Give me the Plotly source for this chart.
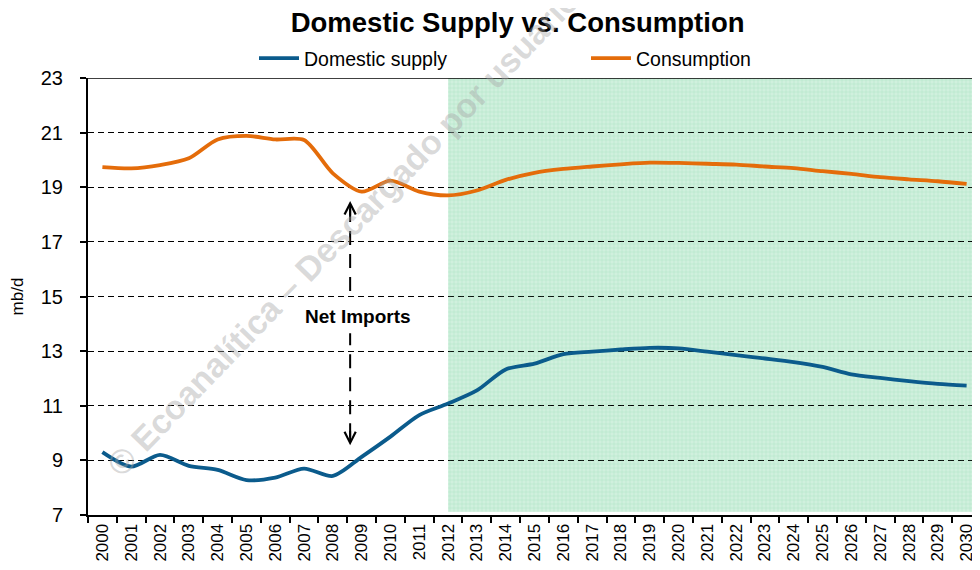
import plotly.graph_objects as go

years = list(range(2000, 2031))
domestic_supply = [9.30, 8.77, 9.20, 8.80, 8.65, 8.28, 8.37, 8.70, 8.43, 9.13, 9.87, 10.66,
                   11.08, 11.56, 12.33, 12.54, 12.89, 12.98, 13.06, 13.12, 13.10, 12.98,
                   12.85, 12.73, 12.60, 12.42, 12.15, 12.02, 11.90, 11.80, 11.74]
consumption = [19.74, 19.69, 19.81, 20.06, 20.75, 20.88, 20.75, 20.73, 19.51, 18.84, 19.24, 18.84,
               18.70, 18.88, 19.27, 19.53, 19.67, 19.76, 19.84, 19.90, 19.89, 19.86,
               19.83, 19.76, 19.70, 19.59, 19.49, 19.37, 19.29, 19.22, 19.12]
year_labels = [str(y) for y in years]
y_ticks = [7, 9, 11, 13, 15, 17, 19, 21, 23]
forecast_start = 2012
arrow_year = 2008.6
arrow_top, arrow_text, arrow_bottom = 18.5, 14.25, 9.55

BLUE = "#0b5b8c"
ORANGE = "#e46c0a"
FONT = "Liberation Sans, Arial, sans-serif"

x_lo, x_hi = years[0] - 0.5, years[-1] + 0.5
# plot-area geometry in figure pixels
L, T, PW, PH = 80, 70, 893, 437

fig = go.Figure()

# forecast shading: solid base below gridlines + light pattern on top
fig.add_shape(type="rect", xref="x", yref="y", x0=forecast_start, x1=x_hi, y0=7.12, y1=23,
              fillcolor="#d0f0dd", line=dict(width=0), layer="below")
fig.add_trace(go.Scatter(
    x=[forecast_start, x_hi, x_hi, forecast_start, forecast_start],
    y=[7.12, 7.12, 23, 23, 7.12],
    mode="lines", line=dict(width=0), fill="toself",
    fillcolor="rgba(0,0,0,0)",
    fillpattern=dict(shape="+", fgcolor="rgba(120,210,160,0.55)", bgcolor="rgba(0,0,0,0)",
                     size=4, solidity=0.3),
    hoverinfo="skip", showlegend=False))

fig.add_trace(go.Scatter(x=years, y=domestic_supply, name="Domestic supply", mode="lines",
                         line=dict(color=BLUE, width=3.8, shape="spline", smoothing=0.8)))
fig.add_trace(go.Scatter(x=years, y=consumption, name="Consumption", mode="lines",
                         line=dict(color=ORANGE, width=3.8, shape="spline", smoothing=0.8)))

# dashed arrow segments
for y0, y1 in [(15.2, arrow_top - 0.3), (arrow_bottom + 0.3, 13.65)]:
    fig.add_shape(type="line", xref="x", yref="y", x0=arrow_year, x1=arrow_year,
                  y0=y0, y1=y1, line=dict(color="black", width=2, dash="14px,9px"))
fig.add_annotation(x=arrow_year, y=arrow_top, xref="x", yref="y", ax=0, ay=16, text="",
                   showarrow=True, arrowhead=5, arrowsize=1.1, arrowwidth=2, arrowcolor="black")
fig.add_annotation(x=arrow_year, y=arrow_bottom, xref="x", yref="y", ax=0, ay=-16, text="",
                   showarrow=True, arrowhead=5, arrowsize=1.1, arrowwidth=2, arrowcolor="black")
fig.add_annotation(x=arrow_year + 0.27, y=arrow_text, xref="x", yref="y", text="<b>Net Imports</b>",
                   showarrow=False, font=dict(family=FONT, size=19, color="black"))

# watermark (page is offset 8px by the browser's body margin)
wx, wy = 343 - 8, 232 - 8
fig.add_annotation(x=(wx - L) / PW, y=(T + PH - wy) / PH, xref="paper", yref="paper",
                   xanchor="center", yanchor="middle",
                   text="<b>© Ecoanalítica – Descargado por usuario</b>", showarrow=False,
                   textangle=-46, font=dict(family=FONT, size=34, color="rgba(165,165,165,0.42)"))

fig.update_layout(
    width=980, height=570,
    margin=dict(l=L, r=980 - L - PW, t=T, b=570 - T - PH),
    paper_bgcolor="white", plot_bgcolor="white",
    font=dict(family=FONT, color="black"),
    title=dict(text="<b>Domestic Supply vs. Consumption</b>", x=0.520, xanchor="center",
               y=0.975, yanchor="middle", font=dict(size=27.5, family=FONT, color="black")),
    legend=dict(orientation="h", x=(254 - 88) / PW, xanchor="left", y=1.0, yanchor="bottom",
                font=dict(size=19.5, family=FONT), entrywidth=277, bgcolor="rgba(0,0,0,0)",
                itemwidth=40),
    xaxis=dict(range=[x_lo, x_hi], tickvals=years, ticktext=year_labels, ticks="",
               minor=dict(tick0=x_lo, dtick=1, ticks="outside", ticklen=6, tickwidth=1.5,
                          tickcolor="black", showgrid=False),
               tickangle=-90, tickfont=dict(size=17), showline=True, linecolor="black",
               linewidth=2, showgrid=False, zeroline=False, automargin=False),
    yaxis=dict(range=[7, 23], tickvals=y_ticks, ticks="outside", ticklen=6, tickwidth=1.5,
               tickcolor="black", tickfont=dict(size=20), showline=True, linecolor="black",
               linewidth=2, showgrid=True, gridcolor="black", gridwidth=1.4,
               griddash="6px,4px", zeroline=False, ticklabelstandoff=13, automargin=False,
               title=dict(text="mb/d", font=dict(size=17), standoff=18)),
    showlegend=True,
)
# top border line at 23
fig.add_shape(type="line", xref="paper", yref="y", x0=0, x1=1, y0=23, y1=23,
              line=dict(color="black", width=1.5))

fig.write_html("out.html")
